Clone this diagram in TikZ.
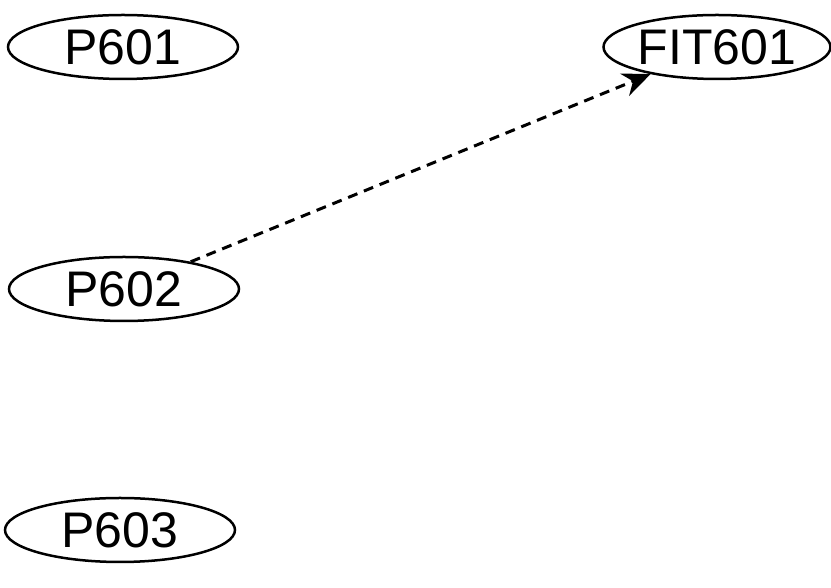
\documentclass[tikz,border=0pt]{standalone}
\usepackage{fontspec}
\setmainfont{Liberation Sans}
\usetikzlibrary{shapes.geometric,arrows.meta}
\tikzset{unit/.style={ellipse, draw, line width=2.5pt, inner sep=0pt, minimum width=230pt, minimum height=64pt, font=\fontsize{50}{50}\selectfont},
  flow/.style={line width=3pt, dashed, dash pattern=on 10pt off 7pt, -{Stealth[length=28pt,width=24pt]}}}
\begin{document}
\begin{tikzpicture}[x=1pt,y=1pt]
    \useasboundingbox (0,0) rectangle (831,588);
    \node[unit] (p601) at (123,541) {P601};
    \node[unit, minimum width=227pt] (fit601) at (717,541) {FIT601};
    \node[unit] (p602) at (124,299) {P602};
    \node[unit] (p603) at (120,58) {P603};
    \draw[flow] (p602) -- (fit601);
\end{tikzpicture}
\end{document}
